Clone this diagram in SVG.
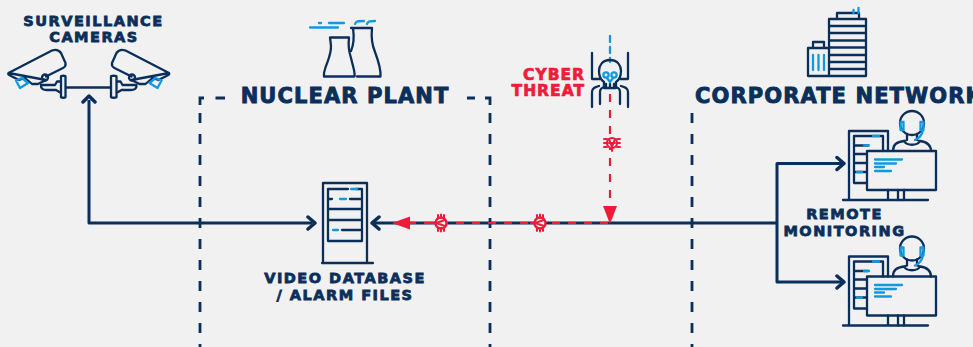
<svg xmlns="http://www.w3.org/2000/svg" width="973" height="347" viewBox="0 0 973 347">
<style>
.n{fill:none;stroke:#0b2f5b;stroke-width:2.300;stroke-linecap:round;stroke-linejoin:round}
.b{fill:none;stroke:#0f9ae0;stroke-width:2.300;stroke-linecap:round;stroke-linejoin:round}
.r{fill:none;stroke:#ee1c3a;stroke-width:2;stroke-linecap:round;stroke-linejoin:round}
.zone{fill:none;stroke:#0b2f5b;stroke-width:2.800;stroke-dasharray:10 11}
.zonet{fill:none;stroke:#0b2f5b;stroke-width:2.800}
.flow{fill:none;stroke:#0b2f5b;stroke-width:3;stroke-linejoin:round}
.head{fill:none;stroke:#0b2f5b;stroke-width:3.500;stroke-linecap:round;stroke-linejoin:round}
.attack{fill:none;stroke:#ee1c3a;stroke-width:2.200;stroke-dasharray:8 8}
text{font-family:"DejaVu Sans",sans-serif;font-weight:700;text-anchor:middle;fill:#0b2f5b}
.lab{font-size:14.5px;letter-spacing:1.5px;stroke:#0b2f5b;stroke-width:.8}
.big{font-size:21px;letter-spacing:1.100px;stroke:#0b2f5b;stroke-width:.9}
.red{font-size:15.5px;letter-spacing:1px;fill:#ee1c3a;stroke:#ee1c3a;stroke-width:.7;text-anchor:end}
</style>
<defs>
<g id="wk">
<path class="n" d="M843 200H928M849 200V131H888V151M888 190V200M854 136H883V151M854 136V183H867M854 145.500H868M854 154H867M854 163H867M854 172H867"/>
<path class="b" d="M873 136H879M864 145.500H869M857 172H862"/>
<rect class="n" x="867" y="151" width="69" height="39"/>
<path class="n" d="M898 190V200M904 190V200"/>
<path class="b" d="M875 159.500H902M875 163.500H896M875 167H884M875 171H891"/>
<circle class="n" cx="912" cy="123" r="12"/>
<path class="n" d="M893 151C893 144 897 142 904 141L907 140V134M917 134V140L920 141C927 142 931 145 931 151M904 141C907 146 917 146 920 141"/>
<path class="b" d="M900.500 122H903.500V130H900.500ZM920.500 122H923.500V130H920.500ZM923 130C922 135 920 138 915 140"/>
</g>
<g id="bug">
<circle cx="1" cy="0" r="5.500" fill="#f1f1f1" stroke="#ee1c3a" stroke-width="2.400"/>
<path class="r" d="M-2 -8V-5M1 -8.500V-5M4 -8V-5M-2 8V5M1 8.500V5M4 8V5M-8 0H-4M-4 0L5 -3M-4 0L5 3"/>
</g>
</defs>
<rect width="973" height="347" fill="#f1f1f1"/>
<g id="connectors">
<path class="zonet" d="M200 105V98H204M215.500 98H225M467 98H475M485 98H490V105"/>
<path class="zone" d="M200 113V347M490 113V347M692 113V347"/>
<path class="flow" d="M89 100V223H312"/>
<path class="head" d="M83 102L89 96L95 102M308 217L315 223L308 229"/>
<path class="flow" d="M374 223H777M777 223V163.500H842M777 223V282H842"/>
<path class="head" d="M379 217L372 223L379 229M837 157.500L844 163.500L837 169.500M837 276L844 282L837 288"/>
<path class="b" d="M610 36V62" stroke-dasharray="6 5" stroke-linecap="butt" stroke-width="2.800"/>
<path class="attack" d="M610 94V208"/>
<path d="M603 206H617L610 224Z" fill="#ee1c3a"/>
<path class="attack" d="M608 223H400"/>
<path d="M410 216.500V229.500L392 223Z" fill="#ee1c3a"/>
</g>
<g id="threat-bugs">
<use href="#bug" x="440" y="223"/>
<use href="#bug" x="539" y="223"/>
<g id="bug-down"><circle cx="612" cy="143" r="5" fill="#f1f1f1" stroke="#ee1c3a" stroke-width="2.200"/><path class="r" d="M604 139H607M604 143H607M604 147H607M620 139H617M620 143H617M620 147H617M612 151V147M609 143H615M612 147L609 139M612 147L615 139"/></g>
</g>
<g id="cameras">
<path class="n" d="M8.500 73L52 50.500C56 49 59 50 61 53L65.500 63C66 66 65 67 63 68L46 76.500M46 80L38 84L32 84L25 78L19 80L11 76C8 75 8 74 8.500 73Z"/>
<circle class="n" cx="45" cy="77.500" r="3"/>
<path class="b" d="M16 80.500L22 78L28 83L20 88Z"/>
<path class="n" d="M41 86C41 89 43 90 47 90H56L61 93V76.500C61 75.500 65.500 75.500 65.500 76.500V97C65.500 98 61 98 61 97V93M41 85H55L57 81.500H61M66 87.500H111"/>
<path class="n" d="M169 73L125.500 50.500C121.500 49 118.500 50 116.500 53L112 63C111.500 66 112.500 67 114.500 68L131.500 76.500M131.500 80L139.500 84L145.500 84L152.500 78L158.500 80L166.500 76C169.500 75 169.500 74 169 73Z"/>
<circle class="n" cx="132" cy="77.500" r="3"/>
<path class="b" d="M161.500 80.500L155.500 78L149.500 83L157.500 88Z"/>
<path class="n" d="M136.500 86C136.500 89 134.500 90 130.500 90H121.500L116.500 93V76.500C116.500 75.500 111 75.500 111 76.500V97C111 98 116.500 98 116.500 97V93M136.500 85H122.500L120.500 81.500H116.500"/>
<text class="lab" x="93.500" y="26">SURVEILLANCE</text>
<text class="lab" x="94" y="42">CAMERAS</text>
</g>
<g id="nuclear-plant">
<path class="n" d="M330 37.500H349C348 46 349 52 351 58L354 70C354.500 73 355 75 354.500 76.500H324C323.500 74 324 72 325 69C327 62 331 56 331 46Z"/>
<path class="n" d="M351 28H372C371 38 372 45 375 52C378 60 381 70 380.500 76.500H357M353 28C354 35 354 44 351 51"/>
<path class="b" d="M310 27.500H338M319 23H321M329 23H344M355 24C356 21 358 21 364 21M367 24C368 21 370 21 375 21" stroke-width="3"/>
<text class="big" x="345" y="102.500">NUCLEAR PLANT</text>
</g>
<g id="cyber-threat">
<path class="n" d="M592 53V79H600M628 53V79H620M592 107V92C592 88 595 87 599 86M628 107V92C628 88 625 87 621 86M600 104V92C600 90 601 88 604 87M620 104V92C620 90 619 88 616 87" stroke-width="2.400"/>
<path class="n" d="M610 60C602 60 599 66 599 71C599 76 601 80 604 82V88H616V82C619 80 621 76 621 71C621 66 618 60 610 60ZM606 84V88M610 84V88M614 84V88" stroke-width="2.600"/>
<circle class="b" cx="606" cy="75" r="2.600" stroke-width="1.500"/><circle class="b" cx="614" cy="75" r="2.600" stroke-width="1.500"/>
<path class="b" d="M607 78L610 82L613 78" stroke-width="1.500"/>
<text class="red" x="585" y="80">CYBER</text>
<text class="red" x="585" y="96">THREAT</text>
</g>
<g id="corporate-network">
<path class="n" d="M829 19H866V76H829ZM837 19V13H859V19M829 26H866M829 33H866M829 40.500H866M829 47.500H866M829 55H866M829 62H866M829 69H866"/>
<path class="b" d="M853.500 10V13M858.500 8V13"/>
<path class="n" d="M808 48H829M808 48V76H829M813 48V42H824V48"/>
<path class="b" d="M813 55V70M818.500 55V70M824 55V70"/>
<text class="big" x="695" y="102.500" style="text-anchor:start">CORPORATE NETWORK</text>
</g>
<g id="video-database">
<path class="n" d="M322 263H373M323 263V183H367V263M328 189H348M356 189H361M362 189V241H328V189M328 199H332M350 199H362M328 209H362M328 220H362M342 230H362"/>
<path class="b" d="M351 189H357M340 199H346M333 230H338"/>
<text class="lab" x="345" y="283">VIDEO DATABASE</text>
<text class="lab" x="345" y="300">/ ALARM FILES</text>
</g>
<g id="remote-monitoring">
<use href="#wk"/>
<use href="#wk" y="125.500"/>
<text class="lab" x="844.500" y="219">REMOTE</text>
<text class="lab" x="844.500" y="236">MONITORING</text>
</g>
</svg>
